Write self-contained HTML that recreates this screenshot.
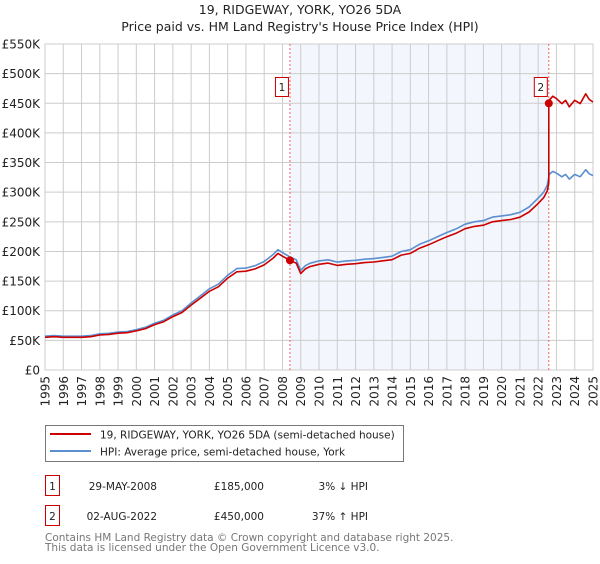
<!DOCTYPE html>
<html><head><meta charset="utf-8"><style>
body{margin:0;background:#fff;width:600px;height:560px;overflow:hidden;font-family:"DejaVu Sans","Liberation Sans",sans-serif}
svg text{font-family:"DejaVu Sans","Liberation Sans",sans-serif}
</style></head><body>
<svg id="c" width="600" height="560">
<text x="300" y="14" font-size="12.5" text-anchor="middle" fill="#222">19, RIDGEWAY, YORK, YO26 5DA</text>
<text x="300" y="31" font-size="12.5" text-anchor="middle" fill="#222">Price paid vs. HM Land Registry's House Price Index (HPI)</text>
<g id="plot"></g>
<rect x="45.5" y="425.5" width="358" height="36" fill="#fff" stroke="#777"/>
<line x1="50" y1="434" x2="91" y2="434" stroke="#cc0000" stroke-width="2"/>
<text x="100" y="438.5" font-size="10.5" fill="#222">19, RIDGEWAY, YORK, YO26 5DA (semi-detached house)</text>
<line x1="50" y1="451" x2="91" y2="451" stroke="#5b8fd0" stroke-width="2"/>
<text x="100" y="455.5" font-size="10.5" fill="#222">HPI: Average price, semi-detached house, York</text>
<g>
<rect x="45.5" y="475.5" width="14" height="20" fill="#fff" stroke="#cc0000"/>
<text x="52.5" y="490" font-size="10.5" text-anchor="middle" fill="#222">1</text>
<text x="157" y="490" font-size="10.5" text-anchor="end" fill="#222">29-MAY-2008</text>
<text x="264" y="490" font-size="10.5" text-anchor="end" fill="#222">£185,000</text>
<text x="368" y="490" font-size="10.5" text-anchor="end" fill="#222">3% ↓ HPI</text>
</g>
<g>
<rect x="45.5" y="505.5" width="14" height="20" fill="#fff" stroke="#cc0000"/>
<text x="52.5" y="520" font-size="10.5" text-anchor="middle" fill="#222">2</text>
<text x="157" y="520" font-size="10.5" text-anchor="end" fill="#222">02-AUG-2022</text>
<text x="264" y="520" font-size="10.5" text-anchor="end" fill="#222">£450,000</text>
<text x="368" y="520" font-size="10.5" text-anchor="end" fill="#222">37% ↑ HPI</text>
</g>
<text x="45" y="541" font-size="10.5" fill="#777">Contains HM Land Registry data © Crown copyright and database right 2025.</text>
<text x="45" y="551" font-size="10.5" fill="#777">This data is licensed under the Open Government Licence v3.0.</text>
</svg>
<script>
const years=[1995,1996,1997,1998,1999,2000,2001,2002,2003,2004,2005,2006,2007,2008,2009,2010,2011,2012,2013,2014,2015,2016,2017,2018,2019,2020,2021,2022,2023,2024,2025];
const yTicks=[0,50,100,150,200,250,300,350,400,450,500,550];
const yTickLabels=["£0","£50K","£100K","£150K","£200K","£250K","£300K","£350K","£400K","£450K","£500K","£550K"];
const hpiDates=[1995,1995.5,1996,1996.5,1997,1997.5,1998,1998.5,1999,1999.5,2000,2000.5,2001,2001.5,2002,2002.5,2003,2003.5,2004,2004.5,2005,2005.5,2006,2006.5,2007,2007.5,2007.75,2008,2008.4,2008.75,2009,2009.25,2009.5,2010,2010.5,2011,2011.5,2012,2012.5,2013,2013.5,2014,2014.5,2015,2015.5,2016,2016.5,2017,2017.5,2018,2018.5,2019,2019.5,2020,2020.5,2021,2021.5,2022,2022.3,2022.5,2022.6,2022.8,2023,2023.3,2023.5,2023.7,2024,2024.3,2024.6,2024.8,2025];
const hpiValues=[57,58,57,57,57,58,61,62,64,65,68,72,79,84,93,100,113,125,137,145,160,171,172,176,183,195,203,198,191,186,168,176,180,184,186,182,184,185,187,188,190,192,200,203,212,218,225,232,238,246,250,252,258,260,262,266,275,290,300,312,330,335,332,326,330,322,330,326,338,331,328];
const sales=[{date:2008.41,price:185},{date:2022.58,price:450}];
const saleLabels=["1","2"];

const X0=45,X1=593,Y0=370,Y1=44;
const xs=d=>X0+(d-1995)/(2025-1995)*(X1-X0);
const ys=v=>Y0-v/550*(Y0-Y1);
const NS="http://www.w3.org/2000/svg";
const g=document.getElementById('plot');
function mk(t,a,p){const e=document.createElementNS(NS,t);for(const k in a)e.setAttribute(k,a[k]);(p||g).appendChild(e);return e;}

const shade=mk('rect',{x:xs(sales[0].date),y:Y1,width:xs(sales[1].date)-xs(sales[0].date),height:Y0-Y1,fill:'#f3f6fd'});



yTicks.forEach((t,i)=>{
  const l=mk('line',{x1:X0,x2:X1,y1:ys(t),y2:ys(t),stroke:'#cccccc','stroke-width':1});
  
  
  const tx=mk('text',{x:X0-5,y:ys(t)+4.5,'font-size':12,'text-anchor':'end',fill:'#222'});
  tx.textContent=yTickLabels[i];
  
  
});
years.forEach(y=>{
  const l=mk('line',{x1:xs(y),x2:xs(y),y1:Y1,y2:Y0,stroke:'#cccccc','stroke-width':1});
  
  
  const tx=mk('text',{x:0,y:0,'font-size':12,'text-anchor':'end',fill:'#222',transform:`translate(${xs(y)+4.5},${Y0+6}) rotate(-90)`});
  tx.textContent=y;
  
  
});
const fr=mk('rect',{x:X0,y:Y1,width:X1-X0,height:Y0-Y1,fill:'none',stroke:'#cccccc'});



sales.forEach((s,i)=>{
  const l=mk('line',{x1:xs(s.date),x2:xs(s.date),y1:Y1,y2:Y0,stroke:'#ee6666','stroke-width':1,'stroke-dasharray':'2,2'});
  
  
});

function hpiAt(d){for(let i=1;i<hpiDates.length;i++){if(d<=hpiDates[i]){const t=(d-hpiDates[i-1])/(hpiDates[i]-hpiDates[i-1]);return hpiValues[i-1]+t*(hpiValues[i]-hpiValues[i-1]);}}return hpiValues[hpiValues.length-1];}
const r1=sales[0].price/hpiAt(sales[0].date), r2=sales[1].price/hpiAt(sales[1].date);

const bp=hpiDates.map((d,i)=>`${xs(d).toFixed(1)},${ys(hpiValues[i]).toFixed(1)}`).join(' ');
const blue=mk('polyline',{points:bp,fill:'none',stroke:'#5b8fd0','stroke-width':1.6,'stroke-linejoin':'round'});



const rp=[];
hpiDates.forEach((d,i)=>{
  if(d<sales[1].date) rp.push([d,hpiValues[i]*r1]);
  if(i<hpiDates.length-1 && d<sales[1].date && hpiDates[i+1]>=sales[1].date){rp.push([sales[1].date,hpiAt(sales[1].date)*r1]);rp.push([sales[1].date,sales[1].price]);}
  if(d>sales[1].date) rp.push([d,hpiValues[i]*r2]);
});
const red=mk('polyline',{points:rp.map(p=>`${xs(p[0]).toFixed(1)},${ys(p[1]).toFixed(1)}`).join(' '),fill:'none',stroke:'#cc0000','stroke-width':1.6,'stroke-linejoin':'round'});



sales.forEach((s,i)=>{
  const c=mk('circle',{cx:xs(s.date),cy:ys(s.price),r:4,fill:'#cc0000'});
  
  
  const bx=xs(s.date)-15;
  const b=mk('rect',{x:bx+0.5,y:77.5,width:13,height:19,fill:'#fff',stroke:'#cc0000'});
  
  
  const t=mk('text',{x:bx+7,y:91,'font-size':10.5,'text-anchor':'middle',fill:'#222'});
  t.textContent=saleLabels[i];
  
  
});
</script>
</body></html>
